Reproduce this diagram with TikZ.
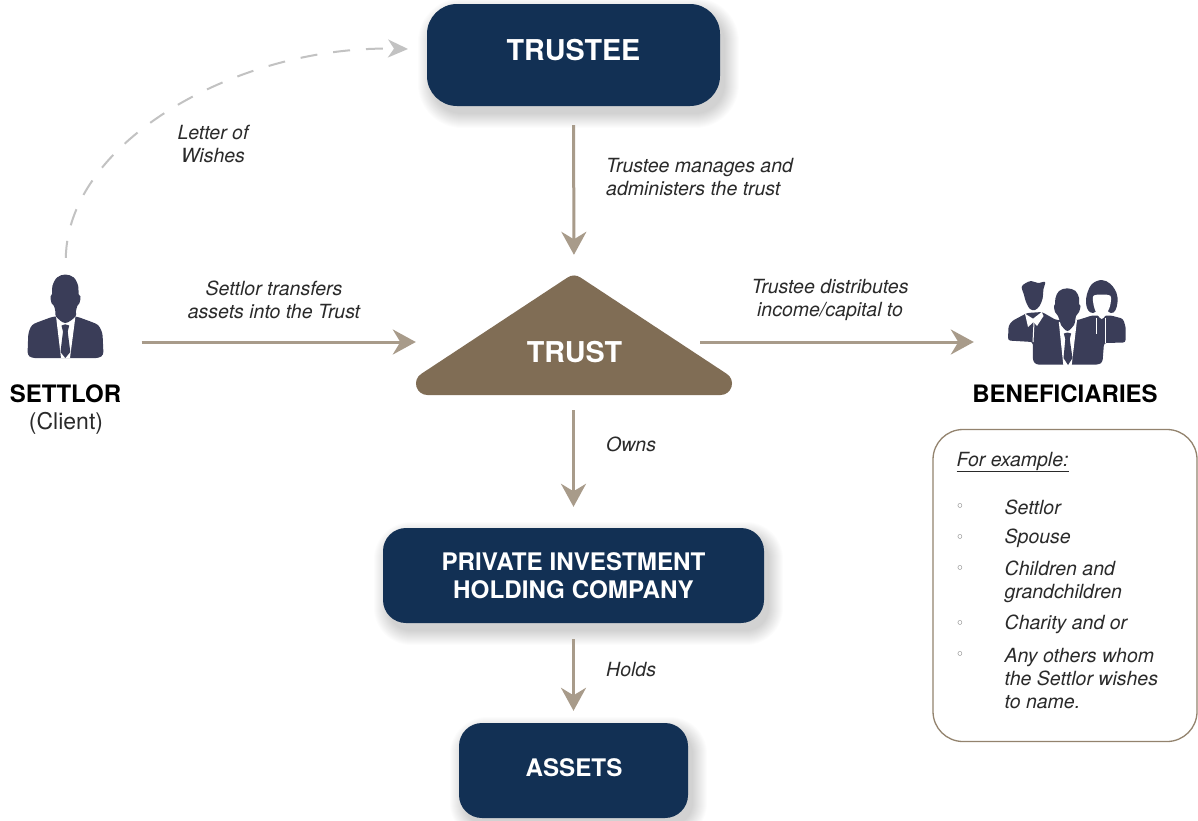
\documentclass[tikz,border=0pt]{standalone}
\usepackage{fontspec}
\setmainfont{TeX Gyre Heros}
\newfontfamily\symfont{DejaVu Sans}
\usetikzlibrary{arrows.meta}
\definecolor{navy}{HTML}{123054}
\definecolor{trustbrown}{HTML}{806D55}
\definecolor{flowtan}{HTML}{A89B8A}
\definecolor{wishgrey}{HTML}{C2C2C2}
\definecolor{figure}{HTML}{3A3D58}
\definecolor{inktext}{HTML}{2A2A2A}
\newcommand{\lift}[2]{\raisebox{#1}[0pt][0pt]{#2}}
\newcommand{\softshadow}[5]{%
  \foreach \i in {14,13,...,0}{
    \fill[black,opacity=.011,rounded corners={(#5+\i)*1pt}]
      ({#1-\i+5},{#2-\i+8}) rectangle ({#3+\i+5},{#4+\i+8});
  }}
\tikzset{
  x=1pt,y=-1pt,
  navybox/.style={fill=navy,draw=none,inner sep=0pt,text=white,align=center},
  boxtitle/.style={font=\fontsize{24.2}{28}\selectfont\bfseries},
  flow/.style={draw=flowtan,line width=3pt,-{Stealth[length=23pt,width=25pt,inset=7.5pt]}},
  wish/.style={draw=wishgrey,line width=2pt,dash pattern=on 17pt off 16pt,-{Stealth[length=20pt,width=18pt,inset=6pt]}},
  note/.style={inner sep=0pt,text=inktext,font=\fontsize{19.5}{23}\selectfont\itshape,align=center},
  leftnote/.style={note,align=left,anchor=west},
  heading/.style={inner sep=0pt,text=black,font=\fontsize{24}{28}\selectfont\bfseries},
  slot/.style={inner sep=0pt,draw=none},
  fig/.style={fill=figure,draw=none},
  shirt/.style={fill=white,draw=none},
  seam/.style={draw=white,line width=1pt},
  dot/.style={inner sep=0pt,text=black!60,font=\fontsize{15}{15}\selectfont\symfont},
}
\begin{document}
\begin{tikzpicture}
\clip (0,0) rectangle (1198,820);
\fill[white] (0,0) rectangle (1198,820);

% soft shadows
\softshadow{427}{4}{720}{106}{30}
\softshadow{383}{528}{764}{623}{23}
\softshadow{459}{723}{688}{818}{23}

% boxes
\node[navybox,rounded corners=30pt,minimum width=293pt,minimum height=102pt,font=\fontsize{28.7}{32}\selectfont\bfseries] (trustee) at (573.5,55) {\lift{-5.2pt}{TRUSTEE}};
\node[navybox,boxtitle,rounded corners=23pt,minimum width=381pt,minimum height=95pt] (holding) at (573.5,575.5) {PRIVATE INVESTMENT\\HOLDING COMPANY};
\node[navybox,boxtitle,rounded corners=23pt,minimum width=229pt,minimum height=95pt] (assets) at (573.5,770.5) {\lift{-6.3pt}{\hspace{1pt}ASSETS}};

% trust triangle
\node[slot,minimum width=316pt,minimum height=132pt] (trust) at (574,342) {};
\fill[trustbrown] (574,287) -- (720.5,383.5) -- (427.5,383.5) -- cycle;
\draw[trustbrown,line width=23pt,line join=round] (574,287) -- (720.5,383.5) -- (427.5,383.5) -- cycle;
\node[inner sep=0pt,text=white,font=\fontsize{28.7}{32}\selectfont\bfseries] (trustlabel) at (574.5,352) {TRUST};
\coordinate (trustE) at (700,342);

% settlor icon
\node[slot,minimum width=76pt,minimum height=84pt] (settlor) at (65.5,316) {};
\fill[fig,rounded corners=3pt] (53.3,316.5) -- (40,321.3) -- (31.7,324.7) -- (28.3,333) -- (27.5,355) -- (31.7,358) -- (99,358) -- (103.5,355) -- (102.5,333) -- (98.5,324.7) -- (90,321.3) -- (76.7,316.5) -- cycle;
\fill[shirt] (56,316) -- (61,358) -- (70,358) -- (75.5,316) -- cycle;
\fill[fig] plot[smooth cycle,tension=.6] coordinates {(65.3,274.5) (57,277.5) (52.4,286) (52,294) (50.5,296.5) (51.5,303) (54,306) (55.5,312) (56,316.5) (65.3,323) (75.5,316.5) (75.8,312) (77.3,306) (79.5,303) (80.5,296.5) (78.5,294) (78.2,286) (73.8,277.5)};
\fill[fig] (61.5,325.5) -- (65.3,324.3) -- (69.2,325.5) -- (67.7,331.5) -- (70.3,352) -- (65.3,358) -- (60.5,352) -- (63,331.5) -- cycle;

% beneficiaries icon
\node[slot,minimum width=119pt,minimum height=86pt] (benef) at (1067.5,322) {};
\fill[fig,rounded corners=2.5pt] (1008,340.5) -- (1008.5,326) -- (1012,321) -- (1027,313) -- (1042,312) -- (1056,320) -- (1078,320) -- (1092,315.5) -- (1111,315.5) -- (1123,318.7) -- (1125.7,327) -- (1125.5,342.5) -- (1104,343) -- (1102.5,362) -- (1099,364.5) -- (1036,364.5) -- (1033,361) -- (1032.7,342) -- cycle;
% left man: head and collar
\fill[fig] plot[smooth cycle,tension=.55] coordinates {(1021.7,287) (1025,283.5) (1031,281) (1038,283) (1045,282) (1043.5,289) (1042.5,298.7) (1039.5,306) (1035,310) (1030,309) (1026,302) (1024,295)};
\fill[shirt] (1025,313.7) -- (1033,318.7) -- (1041.7,312) -- (1043.5,316) -- (1037,326) -- (1033.5,322) -- (1028,327) -- cycle;
\draw[seam] (1034,322) -- (1033,342);
% woman: hair, face, blouse
\fill[fig] plot[smooth cycle,tension=.6] coordinates {(1101.7,280) (1092,284) (1087,294) (1086,303) (1088,310) (1093,313) (1102,308) (1111,313) (1115.5,310) (1117.5,302) (1116.5,293) (1110.5,284)};
\fill[shirt] plot[smooth cycle,tension=.5] coordinates {(1093.3,296) (1101.7,294.5) (1110.5,296) (1110.3,305) (1108,311) (1105.5,315.5) (1101.7,319) (1098,315.5) (1095.5,311) (1093.6,305)};
\draw[seam] (1096.7,318) -- (1096.7,334);
\draw[seam] (1105.7,318) -- (1105.7,343);
% centre man: shirt, head, tie
\fill[shirt] (1058.8,322) -- (1063.3,365) -- (1071.7,365) -- (1077,320) -- cycle;
\fill[fig] plot[smooth cycle,tension=.6] coordinates {(1067.3,288.3) (1059,291) (1055.5,298) (1055,304) (1054,306) (1055,312) (1058,316) (1060,322) (1061,325) (1067.5,331) (1074,325) (1075,322) (1076,316) (1079,312) (1080.5,306) (1079,304) (1079,298) (1075.5,291)};
\fill[fig] (1063.8,333.5) -- (1067.5,332.5) -- (1071.2,333.5) -- (1069.7,339) -- (1072.5,358) -- (1068,365) -- (1063.5,358) -- (1065.3,339) -- cycle;

% connectors
\draw[flow,shorten <=19pt,shorten >=21pt] (trustee.south) -- (trust.north);
\draw[flow,shorten <=38pt] (settlor.east |- trust.west) -- (trust.west);
\draw[flow,shorten >=34pt] (trustE) -- (benef.west |- trustE);
\draw[flow,shorten <=15pt,shorten >=21pt] (trust.south -| holding.north) ++(0,-13) -- (holding.north);
\draw[flow,shorten <=16pt,shorten >=12pt] (holding.south) -- (assets.north);
\coordinate (wishEnd) at (408,49);
\draw[wish,shorten <=16pt] (settlor.north) .. controls (68,140) and (240,45) .. (wishEnd);

% texts
\node[note] (lblWishes) at (213,144) {Letter of\\Wishes};
\node[leftnote] (lblManage) at (606,177.5) {Trustee manages and\\administers the trust};
\node[note] (lblTransfer) at (274,299.5) {Settlor transfers\\assets into the Trust};
\node[note] (lblDistrib) at (830,300) {Trustee distributes\\income/capital to};
\node[leftnote] (lblOwns) at (606,444.5) {Owns};
\node[leftnote] (lblHolds) at (606,669.5) {Holds};
\node[heading] (lblSettlor) at (65.5,394) {SETTLOR};
\node[inner sep=0pt,text=inktext,font=\fontsize{23}{28}\selectfont] (lblClient) at (66,423) {(Client)};
\node[heading] (lblBenef) at (1065,394) {BENEFICIARIES};

% examples panel
\node[draw=trustbrown!85!white,line width=1.3pt,rounded corners=30pt,fill=white,minimum width=264pt,minimum height=312pt,inner sep=0pt] (panel) at (1065,585.5) {};
\node[leftnote] (exHead) at (956.5,462) {\underline{For example:}};
\node[dot] (b1) at (960,508) {◦};
\node[dot] (b2) at (960,539) {◦};
\node[dot] (b3) at (960,570) {◦};
\node[dot] (b4) at (960,625) {◦};
\node[dot] (b5) at (960,656) {◦};
\node[leftnote] (ex1) at (1004.5,507) {Settlor};
\node[leftnote] (ex2) at (1004.5,538.5) {Spouse};
\node[leftnote] (ex3) at (1004.5,582) {Children and\\grandchildren};
\node[leftnote] (ex4) at (1004.5,624.5) {Charity and or};
\node[leftnote] (ex5) at (1004.5,679) {Any others whom\\the Settlor wishes\\to name.};
\end{tikzpicture}
\end{document}
